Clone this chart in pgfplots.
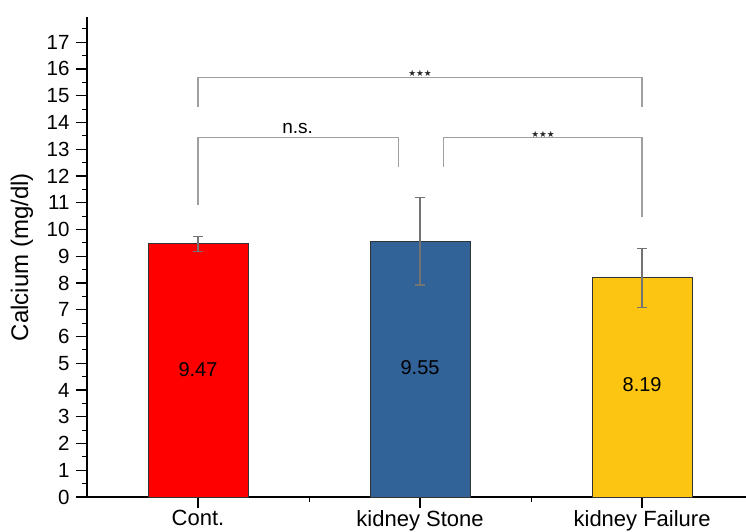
\documentclass[border=0pt]{standalone}
\usepackage{pgfplots}
\pgfplotsset{compat=1.18}
\usepackage{fontspec}
\setmainfont{Liberation Sans}
\newfontfamily\dejavu{DejaVu Sans}
\definecolor{cred}{RGB}{255,0,0}
\definecolor{cblue}{RGB}{49,99,153}
\definecolor{cyellow}{RGB}{252,197,18}
\begin{document}
\begin{tikzpicture}
\useasboundingbox (0,0) rectangle (746pt,531pt);
\begin{axis}[
  at={(87pt,34pt)}, anchor=south west,
  scale only axis, width=659pt, height=480pt,
  xmin=0.5, xmax=3.468, ymin=0, ymax=17.94,
  axis x line=bottom, axis y line=left,
  axis line style={-, line width=1.5pt, black},
  tick align=outside,
  major tick length=11pt, minor tick length=5pt,
  tick style={black, line width=1.2pt},
  minor tick style={black, line width=1pt},
  xtick={1,2,3}, xticklabels={Cont., kidney Stone, kidney Failure},
  minor xtick={1.5,2.5},
  ytick={0,1,...,17}, minor ytick={0.5,1.5,...,17.5},
  /pgf/number format/assume math mode=true,
  y tick label style={font=\fontsize{20.5}{20.5}\selectfont, xshift=-3pt},
  x tick label style={font=\fontsize{22}{22}\selectfont, inner sep=2pt},
  ylabel={Calcium (mg/dl)},
  ylabel style={font=\fontsize{24}{24}\selectfont, at={(axis description cs:0,0.5)}, anchor=center, yshift=65pt},
  clip=false,
]
\addplot[ybar, bar width=100pt, bar shift=0pt, fill=cred, draw=black!80, line width=1pt,
  error bars/.cd, y dir=both, y explicit,
  error bar style={black!55, line width=1.2pt},
  error mark options={rotate=90, mark size=5pt, line width=1.2pt, black!55}]
  coordinates {(1,9.47) +- (0,0.28)};
\addplot[ybar, bar width=100pt, bar shift=0pt, fill=cblue, draw=black!80, line width=1pt,
  error bars/.cd, y dir=both, y explicit,
  error bar style={black!55, line width=1.2pt},
  error mark options={rotate=90, mark size=5pt, line width=1.2pt, black!55}]
  coordinates {(2,9.55) +- (0,1.63)};
\addplot[ybar, bar width=100pt, bar shift=0pt, fill=cyellow, draw=black!80, line width=1pt,
  error bars/.cd, y dir=both, y explicit,
  error bar style={black!55, line width=1.2pt},
  error mark options={rotate=90, mark size=5pt, line width=1.2pt, black!55}]
  coordinates {(3,8.19) +- (0,1.11)};
% brackets
\addplot[gray!75, line width=1.5pt, mark=none] coordinates {(1,14.59) (1,15.68) (3,15.68) (3,14.59)};
\addplot[gray!75, line width=1.5pt, mark=none] coordinates {(1,10.91) (1,13.43) (1.902,13.43) (1.902,12.34)};
\addplot[gray!75, line width=1.5pt, mark=none] coordinates {(2.105,12.34) (2.105,13.43) (3,13.43) (3,10.47)};
% value labels
\addplot[draw=none, mark=none, nodes near coords, point meta=explicit symbolic,
  every node near coord/.style={font=\fontsize{20}{20}\selectfont, anchor=center, black}]
  table[meta=label] {
x y label
1 4.75 9.47
2 4.82 9.55
3 4.19 8.19
};
% n.s.
\addplot[draw=none, mark=none, nodes near coords, point meta=explicit symbolic,
  every node near coord/.style={font=\fontsize{19}{19}\selectfont, anchor=base, black, inner sep=0pt}]
  table[meta=label] {
x y label
1.449 13.59 n.s.
};
% stars
\addplot[draw=none, mark=none, nodes near coords, point meta=explicit symbolic,
  every node near coord/.style={font=\dejavu\fontsize{8.7}{8.7}\selectfont, anchor=south, black!85, inner sep=0pt, yshift=0.3pt}]
  table[meta=label] {
x y label
2.0 15.68 ★★★
2.554 13.43 ★★★
};
\end{axis}
\end{tikzpicture}
\end{document}
